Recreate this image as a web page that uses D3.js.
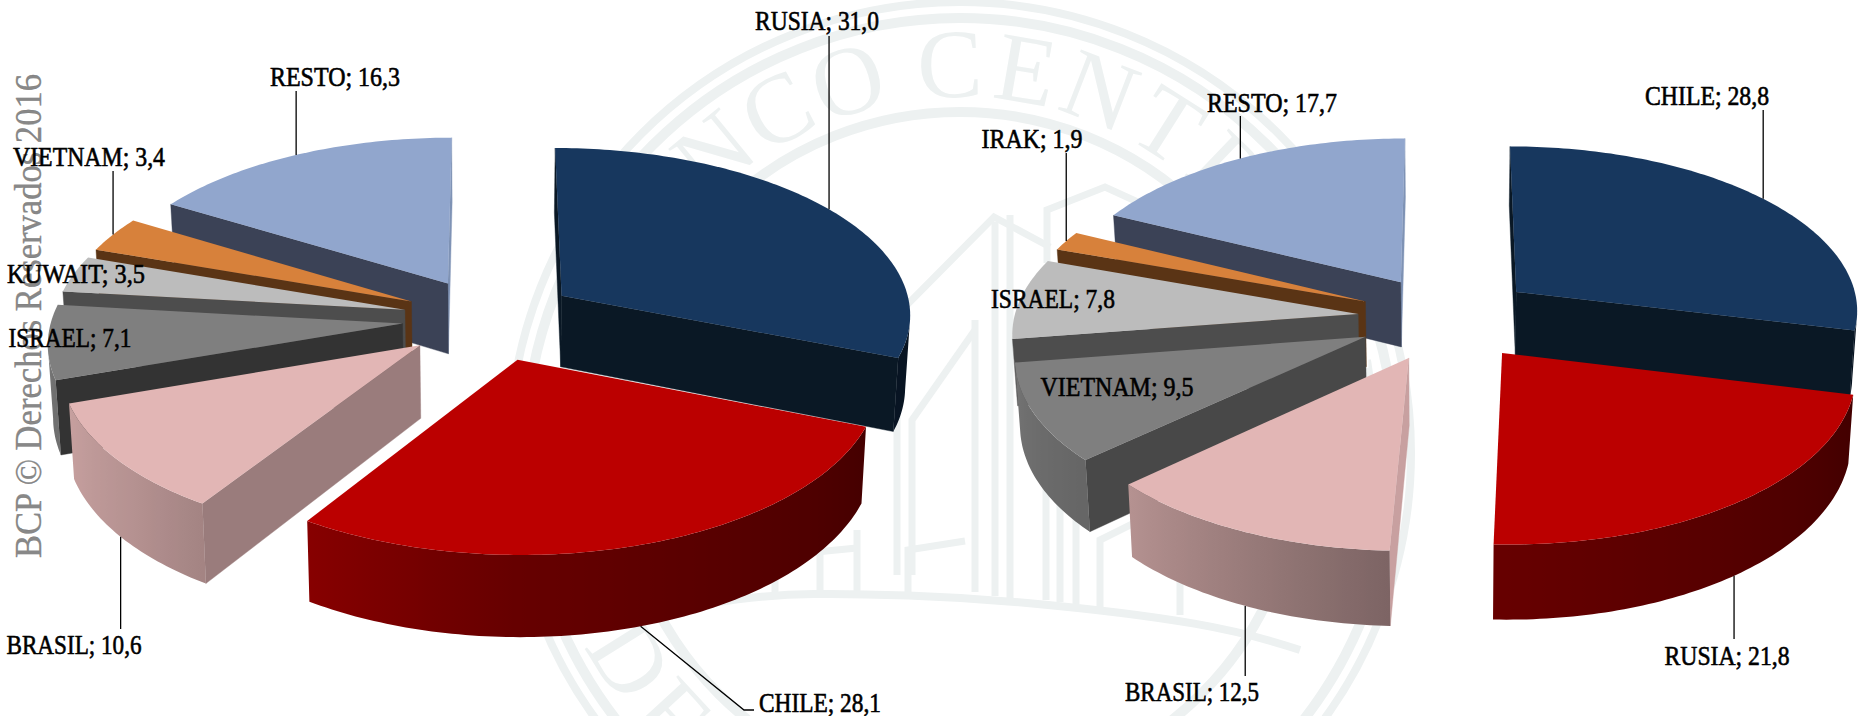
<!DOCTYPE html>
<html><head><meta charset="utf-8">
<script src="https://cdn.jsdelivr.net/npm/d3@7/dist/d3.min.js"></script>
<style>html,body{margin:0;padding:0;background:#fff;overflow:hidden}svg{display:block}</style>
</head><body>
<svg id="c" width="1863" height="716"></svg>
<script>
// ---- data ----
const categoriesLeft  = ["RUSIA","CHILE","BRASIL","ISRAEL","KUWAIT","VIETNAM","RESTO"];
const valuesLeft      = [31.0,28.1,10.6,7.1,3.5,3.4,16.3];
const categoriesRight = ["CHILE","RUSIA","BRASIL","VIETNAM","ISRAEL","IRAK","RESTO"];
const valuesRight     = [28.8,21.8,12.5,9.5,7.8,1.9,17.7];

// ---- styles ----
const topColors   = ["#17375e","#bb0000","#e2b6b5","#7f7f7f","#bcbcbc","#d7813b","#91a6cd"];
const startCutLeft  = ["#0a1825","#4a0000","#9a7c7c","#333333","#4d4d4d","#5a3415","#3b4256"];
const startCutRight = ["#0a1825","#4a0000","#c8a0a0","#484848","#4d4d4d","#5a3415","#3b4256"];
const endCut        = ["#0a1825","#6a0000","#b59494","#666666","#8a8a8a","#a86530","#7f93b5"];
const wallShade = d3.scaleLinear()
  .domain([0,90,112,182,212,227,251,262,360])
  .range([.33,.33,.37,.55,.72,.8,.88,.95,.95]);

// ---- layout ----
const frameLeft  = {cx:490, cy:319, A:351, B:167, p:.1, e:.25, h:72, q:.012};
const frameRight = {cx:1447,cy:318, A:344, B:165, p:.1, e:.26, h:66, q:.012};
const labelsLeft = [
 {x:817,y:21,w:124,leader:36},{x:820,y:703,w:122,elbow:[744,710,754]},
 {x:74,y:645,w:135,leader:629},{x:70,y:338,w:123},{x:76,y:274,w:138},
 {x:89,y:157,w:152,leader:171},{x:335,y:77,w:130,leader:91}];
const labelsRight = [
 {x:1707,y:96,w:124,leader:110},{x:1727,y:656,w:125,leader:639},
 {x:1192,y:692,w:134,leader:676},{x:1117,y:387,w:153},{x:1053,y:299,w:124},
 {x:1032,y:139,w:101,leader:153},{x:1272,y:103,w:130,leader:116}];

const svg = d3.select("#c");
const defs = svg.append("defs");
const SEAL = "#edf1f1";
const FONT = "'Liberation Serif','Times New Roman',serif";

// ---- background seal ----
const seal = svg.append("g").attr("fill","none").attr("stroke",SEAL);
const sc = [960,453];
[[451,8],[435,10],[341,10]].forEach(([r,w])=>seal.append("circle").attr("cx",sc[0]).attr("cy",sc[1]).attr("r",r).attr("stroke-width",w));
const lineGen = d3.line();
const buildingLines = [
 [[897,575],[897,315],[994,217],[1050,247]],
 [[912,575],[912,420],[975,330]],
 [[975,592],[975,320]],[[995,596],[995,222]],[[1010,598],[1010,215]],
 [[1047,263],[1047,210],[1105,187],[1140,203],[1140,240]],
 [[1046,600],[1046,450]],[[1060,602],[1060,450]],[[1076,604],[1076,450]],
 [[775,593],[775,540]],[[820,592],[820,535]],[[857,592],[857,530]],[[908,592],[908,550],[965,541]],
 [[775,556],[857,548]],[[1100,608],[1100,540],[1140,520],[1180,550],[1180,615]]
];
buildingLines.forEach(l=>seal.append("path").attr("d",lineGen(l)).attr("stroke-width",7));
seal.append("path").attr("d",d3.line().curve(d3.curveBasis)([[640,615],[745,597],[808,593],[908,595],[1010,600],[1214,623],[1300,650]])).attr("stroke-width",8);
const sealTop = "BANCO CENTRAL DE";
const sealBot = "DE RESERVA";
const sealG = svg.append("g").attr("font-family",FONT).attr("fill",SEAL).attr("font-size",98).attr("text-anchor","middle");
let sealAngle=-62;
Array.from(sealTop).forEach(ch=>{
  if(ch===" "){sealAngle+=4;return;}
  sealG.append("text").attr("transform",`translate(${sc[0]},${sc[1]}) rotate(${sealAngle}) translate(0,-356)`).text(ch);
  sealAngle+=11.3;
});
sealAngle=238;
Array.from(sealBot).forEach(ch=>{
  if(ch===" "){sealAngle-=4;return;}
  sealG.append("text").attr("transform",`translate(${sc[0]},${sc[1]}) rotate(${sealAngle-180}) translate(0,422)`).text(ch);
  sealAngle-=10.6;
});

// ---- pies ----
const pie = d3.pie().sort(null).value(d=>d).startAngle(0).endAngle(2*Math.PI);
let gradId=0;

function drawPie(cats,vals,fr,startCut,g){
  const sx = d3.scaleLinear().domain([-1,1]).range([-fr.A,fr.A]);
  const sy = d3.scaleLinear().domain([-1,1]).range([fr.B,-fr.B]);
  const camY=-1/fr.p;
  const proj=(x,y,bottom)=>{
    const w=1+fr.p*y, px=sx(x)/w;
    let py=sy(y)/w, k=1;
    if(bottom){py+=fr.h/w;k=1-fr.q;}
    return [fr.cx+px*k,fr.cy+py];
  };
  const arcs=pie(vals).map((d,i)=>{
    const mid=(d.startAngle+d.endAngle)/2;
    return {i,a0:d.startAngle,a1:d.endAngle,mid,ox:fr.e*Math.sin(mid),oy:fr.e*Math.cos(mid)};
  });
  const pt=(s,ang,r,b)=>proj(s.ox+r*Math.sin(ang),s.oy+r*Math.cos(ang),b);
  const faces=(nx,ny,x,y)=>nx*(0-x)+ny*(camY-y)>0;
  const order=arcs.slice().sort((a,b)=>Math.cos(b.mid)-Math.cos(a.mid));
  order.forEach(s=>{
    const base=d3.color(topColors[s.i]);
    const sg=g.append("g");
    const cut=(ang,col)=>sg.append("path").attr("fill",col).attr("stroke",col).attr("stroke-width",.4)
      .attr("d",lineGen([pt(s,ang,0,false),pt(s,ang,1,false),pt(s,ang,1,true),pt(s,ang,0,true)])+"Z");
    if(faces(Math.cos(s.a1),-Math.sin(s.a1),s.ox,s.oy)) cut(s.a1,endCut[s.i]);
    if(faces(-Math.cos(s.a0),Math.sin(s.a0),s.ox,s.oy)) cut(s.a0,startCut[s.i]);
    const n=Math.max(2,Math.ceil((s.a1-s.a0)*180/Math.PI));
    const angs=d3.range(n+1).map(k=>s.a0+(s.a1-s.a0)*k/n);
    const vis=angs.filter(a=>faces(Math.sin(a),Math.cos(a),s.ox+Math.sin(a),s.oy+Math.cos(a)));
    if(vis.length>1){
      const x0=pt(s,vis[0],1,false)[0], x1=pt(s,vis[vis.length-1],1,false)[0];
      const id="w"+(gradId++);
      const gr=defs.append("linearGradient").attr("id",id).attr("gradientUnits","userSpaceOnUse")
        .attr("x1",x0).attr("x2",x1).attr("y1",0).attr("y2",0);
      vis.forEach(a=>{
        const f=wallShade(a*180/Math.PI);
        gr.append("stop").attr("offset",(pt(s,a,1,false)[0]-x0)/(x1-x0))
          .attr("stop-color",d3.rgb(base.r*f,base.g*f,base.b*f).formatHex());
      });
      sg.append("path").attr("fill",`url(#${id})`)
        .attr("d",lineGen([...vis.map(a=>pt(s,a,1,false)),...vis.slice().reverse().map(a=>pt(s,a,1,true))])+"Z");
    }
    sg.append("path").attr("fill",topColors[s.i])
      .attr("d",lineGen([pt(s,0,0,false),...angs.map(a=>pt(s,a,1,false))])+"Z");
  });
  return {arcs,pt};
}
const gPies=svg.append("g");
const left =drawPie(categoriesLeft,valuesLeft,frameLeft,startCutLeft,gPies);
const right=drawPie(categoriesRight,valuesRight,frameRight,startCutRight,gPies);

// ---- rotated mark ----
svg.append("text").attr("transform","translate(41,558) rotate(-90)")
  .attr("font-family",FONT).attr("font-size",37).attr("fill","#777").attr("fill-opacity",.9)
  .attr("stroke","#777").attr("stroke-width",.3)
  .attr("textLength",484).attr("lengthAdjust","spacingAndGlyphs")
  .text("BCP © Derechos Reservados 2016");

// ---- leaders and labels ----
function drawLabels(cats,vals,info,labels){
  const g=svg.append("g");
  labels.forEach((l,i)=>{
    const s=info.arcs[i];
    const frontWall=Math.cos(s.mid)<0;
    const p=info.pt(s,s.mid,1,frontWall);
    if(l.leader!==undefined){
      g.append("line").attr("x1",p[0]).attr("x2",p[0]).attr("y1",p[1]).attr("y2",l.leader)
        .attr("stroke","#000").attr("stroke-width",1.3);
    }
    if(l.elbow){
      g.append("path").attr("fill","none").attr("stroke","#000").attr("stroke-width",1.3)
        .attr("d",lineGen([p,[l.elbow[0],l.elbow[1]],[l.elbow[2],l.elbow[1]]]));
    }
    g.append("text").attr("x",l.x).attr("y",l.y+9).attr("text-anchor","middle")
      .attr("font-family",FONT).attr("font-size",26.5).attr("fill","#000")
      .attr("stroke","#000").attr("stroke-width",.6)
      .attr("textLength",l.w).attr("lengthAdjust","spacingAndGlyphs")
      .text(`${cats[i]}; ${vals[i].toFixed(1).replace(".",",")}`);
  });
}
drawLabels(categoriesLeft,valuesLeft,left,labelsLeft);
drawLabels(categoriesRight,valuesRight,right,labelsRight);
</script>
</body></html>
